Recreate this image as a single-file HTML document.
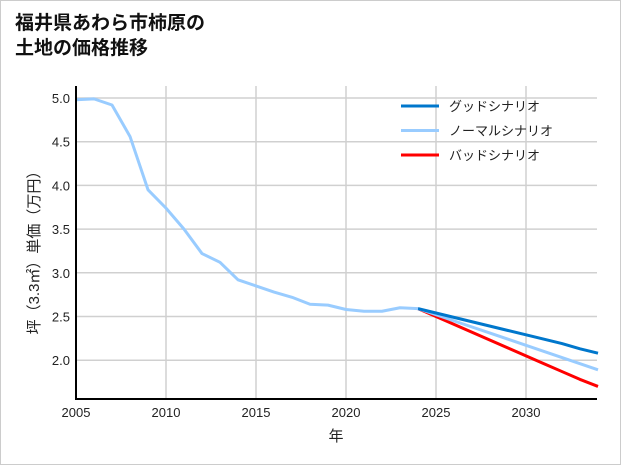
<!DOCTYPE html>
<html><head><meta charset="utf-8"><style>
body{margin:0;background:#fff}
#wrap{position:relative;width:619px;height:463px;border:1px solid #ccc;background:#fff;font-family:"Liberation Sans","Noto Sans CJK JP",sans-serif}
#title{position:absolute;left:14px;top:10px;font-size:19px;font-weight:bold;line-height:25px;color:#111}
svg{position:absolute;left:0;top:0}
</style></head><body>
<div id="wrap">
<div id="title">福井県あわら市柿原の<br>土地の価格推移</div>
<svg id="chart" width="621" height="465"></svg>
</div>
<script>
const histYears=[2005,2006,2007,2008,2009,2010,2011,2012,2013,2014,2015,2016,2017,2018,2019,2020,2021,2022,2023,2024];
const histValues=[4.98,4.99,4.92,4.56,3.95,3.74,3.50,3.22,3.12,2.92,2.85,2.78,2.72,2.64,2.63,2.58,2.56,2.56,2.60,2.59];
const projYears=[2024,2025,2026,2027,2028,2029,2030,2031,2032,2033,2034];
const goodValues=[2.59,2.54,2.49,2.44,2.39,2.34,2.29,2.24,2.19,2.13,2.08];
const normalValues=[2.59,2.52,2.45,2.38,2.31,2.24,2.17,2.10,2.03,1.96,1.89];
const badValues=[2.59,2.50,2.41,2.32,2.23,2.14,2.05,1.96,1.87,1.78,1.70];
const xTicks=[2005,2010,2015,2020,2025,2030];
const yTicks=[2.0,2.5,3.0,3.5,4.0,4.5,5.0];
const svg=document.getElementById('chart');
const NS='http://www.w3.org/2000/svg';
const L=75,R=596,T=85,B=398;
const x=v=>L+(v-2005)*18;
const y=v=>97+(5-v)*87.4;
function mk(t,a,p){const e=document.createElementNS(NS,t);for(const k in a)e.setAttribute(k,a[k]);(p||svg).appendChild(e);return e;}
for(const t of xTicks){const g=mk('line',{x1:x(t),x2:x(t),y1:T,y2:B,stroke:'#d0d0d0','stroke-width':1.5});

const tx=mk('text',{x:x(t),y:B+18,'text-anchor':'middle','font-size':13,fill:'#222'});tx.textContent=t;
}
for(const t of yTicks){const g=mk('line',{x1:L,x2:R,y1:y(t),y2:y(t),stroke:'#d0d0d0','stroke-width':1.5});

const tx=mk('text',{x:L-6,y:y(t)+5,'text-anchor':'end','font-size':13,fill:'#222'});tx.textContent=t.toFixed(1);
}
function line(xs,vs,c,name){const p=mk('polyline',{points:xs.map((a,i)=>x(a)+','+y(vs[i])).join(' '),fill:'none',stroke:c,'stroke-width':3,'stroke-linejoin':'round'});
}
line(projYears,badValues,'#ff0000','bad-scenario-line');
line(projYears,normalValues,'#99ccff','normal-scenario-line');
line(projYears,goodValues,'#0077cc','good-scenario-line');
line(histYears,histValues,'#99ccff','historical-line');
const ax1=mk('line',{x1:L,x2:L,y1:T,y2:B+1,stroke:'#000','stroke-width':2});

const ax2=mk('line',{x1:L-1,x2:R,y1:B,y2:B,stroke:'#000','stroke-width':2});

const xt=mk('text',{x:335,y:440,'text-anchor':'middle','font-size':15,fill:'#222'});xt.textContent='年';

const yt=mk('text',{x:0,y:0,'text-anchor':'middle','font-size':15,fill:'#222',transform:'translate(38,248) rotate(-90)'});yt.textContent='坪（3.3㎡）単価（万円）';

const leg=[['グッドシナリオ','#0077cc'],['ノーマルシナリオ','#99ccff'],['バッドシナリオ','#ff0000']];
leg.forEach((l,i)=>{const yy=105+i*24.5;
const s=mk('line',{x1:400,x2:438,y1:yy,y2:yy,stroke:l[1],'stroke-width':3});

const t=mk('text',{x:448,y:yy+5,'font-size':13,fill:'#222'});t.textContent=l[0];
});
</script>
</body></html>
